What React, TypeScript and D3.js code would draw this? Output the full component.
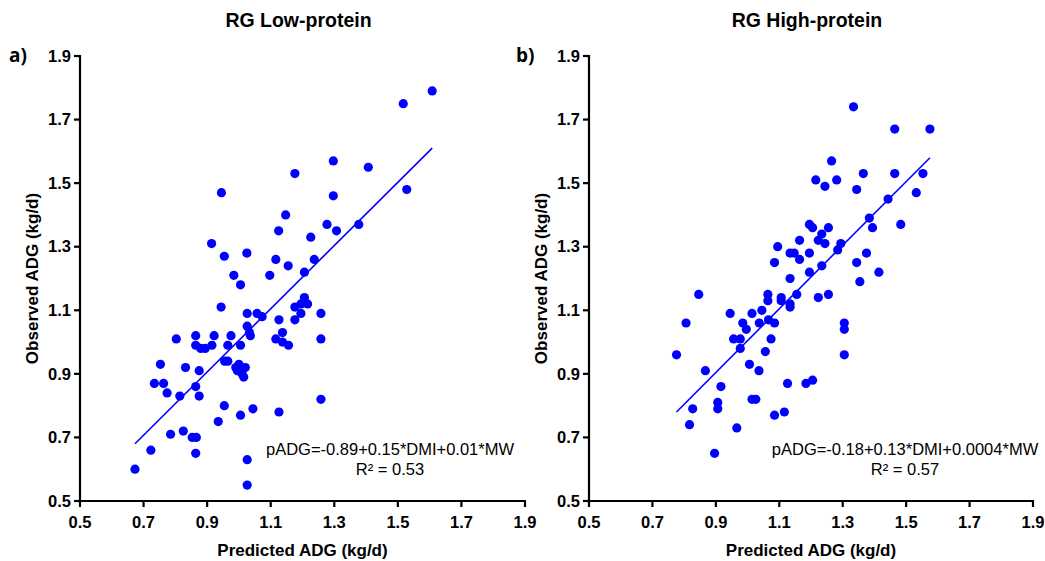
import React from "react";
import * as d3 from "d3";

// ---------- data ----------
const xTicks = [0.5, 0.7, 0.9, 1.1, 1.3, 1.5, 1.7, 1.9];
const yTicks = [0.5, 0.7, 0.9, 1.1, 1.3, 1.5, 1.7, 1.9];

const lowPredicted = [
  0.673, 0.723, 0.734, 0.753, 0.763, 0.774, 0.785, 0.803, 0.814, 0.825, 0.832, 0.853, 0.866, 0.864, 0.864,
  0.864, 0.864, 0.875, 0.875, 0.88, 0.894, 0.914, 0.915, 0.922, 0.935, 0.944, 0.945, 0.954, 0.954, 0.955,
  0.965, 0.965, 0.975, 0.984, 0.99, 0.995, 1.0, 1.005, 1.005, 1.005, 1.01, 1.015, 1.02, 1.025, 1.026,
  1.026, 1.026, 1.026, 1.033, 1.036, 1.044, 1.057, 1.073, 1.097, 1.116, 1.116, 1.125, 1.126, 1.126, 1.137,
  1.137, 1.147, 1.155, 1.156, 1.176, 1.176, 1.176, 1.195, 1.195, 1.206, 1.206, 1.216, 1.226, 1.237, 1.258,
  1.258, 1.258, 1.277, 1.297, 1.297, 1.307, 1.377, 1.407, 1.517, 1.528, 1.608,
];
const lowObserved = [
  0.6, 0.66, 0.87, 0.93, 0.87, 0.84, 0.71, 1.01, 0.83, 0.72, 0.92, 0.7, 0.7, 0.65, 0.86,
  1.02, 0.99, 0.83, 0.91, 0.98, 0.98, 1.31, 0.99, 1.02, 0.75, 1.11, 1.47, 1.27, 0.8, 0.94,
  0.94, 0.99, 1.02, 1.21, 0.92, 0.91, 0.93, 0.99, 1.18, 0.77, 0.9, 0.89, 0.92, 1.28, 1.09,
  1.05, 0.63, 0.55, 1.03, 1.02, 0.79, 1.09, 1.08, 1.21, 1.26, 1.01, 1.35, 0.78, 1.07, 1.03,
  1.0, 1.4, 1.24, 0.99, 1.53, 1.11, 1.07, 1.12, 1.09, 1.14, 1.22, 1.12, 1.33, 1.26, 1.09,
  1.01, 0.82, 1.37, 1.57, 1.46, 1.35, 1.37, 1.55, 1.75, 1.48, 1.79,
];
const lowFitX = [0.673, 1.608];
const lowFitY = [0.68, 1.61];

const highPredicted = [
  0.776, 0.806, 0.817, 0.827, 0.846, 0.867, 0.896, 0.906, 0.906, 0.916, 0.945, 0.956, 0.966, 0.977, 0.977,
  0.985, 0.996, 1.006, 1.014, 1.014, 1.026, 1.036, 1.037, 1.045, 1.056, 1.064, 1.064, 1.066, 1.074, 1.085,
  1.085, 1.085, 1.095, 1.106, 1.106, 1.116, 1.126, 1.134, 1.147, 1.134, 1.134, 1.134, 1.155, 1.164, 1.164,
  1.184, 1.195, 1.205, 1.195, 1.195, 1.205, 1.215, 1.223, 1.223, 1.234, 1.234, 1.244, 1.244, 1.255, 1.255,
  1.265, 1.281, 1.284, 1.294, 1.305, 1.305, 1.305, 1.334, 1.344, 1.344, 1.354, 1.365, 1.375, 1.384, 1.394,
  1.414, 1.443, 1.464, 1.464, 1.483, 1.532, 1.553, 1.575,
];
const highObserved = [
  0.96, 1.06, 0.74, 0.79, 1.15, 0.91, 0.65, 0.81, 0.79, 0.86, 1.09, 1.01, 0.73, 1.01, 0.98,
  1.06, 1.04, 0.93, 1.09, 0.82, 0.82, 0.91, 1.06, 1.1, 0.97, 1.15, 1.13, 1.07, 1.01, 1.06,
  1.25, 0.77, 1.3, 1.14, 1.13, 0.78, 0.87, 1.28, 1.28, 1.2, 1.12, 1.11, 1.15, 1.32, 1.26,
  0.87, 1.37, 1.36, 1.28, 1.22, 0.88, 1.51, 1.32, 1.14, 1.34, 1.24, 1.31, 1.49, 1.36, 1.15,
  1.57, 1.51, 1.29, 1.31, 1.06, 1.04, 0.96, 1.74, 1.48, 1.25, 1.19, 1.53, 1.28, 1.39, 1.36,
  1.22, 1.45, 1.67, 1.53, 1.37, 1.47, 1.53, 1.67,
];
const highFitX = [0.776, 1.575];
const highFitY = [0.78, 1.58];

const panels = [
  {
    label: "a)",
    title: "RG Low-protein",
    px: lowPredicted,
    py: lowObserved,
    fx: lowFitX,
    fy: lowFitY,
    eq: "pADG=-0.89+0.15*DMI+0.01*MW",
    r2: "R\u00b2 = 0.53",
  },
  {
    label: "b)",
    title: "RG High-protein",
    px: highPredicted,
    py: highObserved,
    fx: highFitX,
    fy: highFitY,
    eq: "pADG=-0.18+0.13*DMI+0.0004*MW",
    r2: "R\u00b2 = 0.57",
  },
];

const W = 1045;
const H = 561;
const FONT = "'Liberation Sans', Arial, Helvetica, sans-serif";
const BLUE = "#0000ff";

const layout = [
  { x0: 80, x1: 525, eqX: 390, labelX: 9 },
  { x0: 589, x1: 1033, eqX: 905, labelX: 516 },
];
const Y0 = 501;
const Y1 = 56;

function Panel({ p, l }: { p: (typeof panels)[0]; l: (typeof layout)[0] }) {
  const x = d3.scaleLinear().domain([0.5, 1.9]).range([l.x0, l.x1]);
  const y = d3.scaleLinear().domain([0.5, 1.9]).range([Y0, Y1]);
  const line = d3
    .line<number>()
    .x((_, i) => x(p.fx[i]))
    .y((d) => y(d));
  const cx = (l.x0 + l.x1) / 2;
  return (
    <g>
      <text x={cx - 4} y={27} textAnchor="middle" fontFamily={FONT} fontWeight="bold" fontSize={19.5}>
        {p.title}
      </text>
      <text x={l.labelX} y={62} fontFamily="'Open Sans', sans-serif" fontWeight="bold" fontSize={19}>
        {p.label}
      </text>
      {/* points */}
      {p.px.map((v, i) => (
        <circle key={i} cx={x(v)} cy={y(p.py[i])} r={4.6} fill={BLUE} />
      ))}
      <path d={line(p.fy) || ""} stroke={BLUE} strokeWidth={1.6} fill="none" />
      {/* axes */}
      <line x1={l.x0} x2={l.x0} y1={Y1 - 1} y2={Y0 + 1} stroke="#000" strokeWidth={2.2} />
      <line x1={l.x0 - 1} x2={l.x1 + 1} y1={Y0} y2={Y0} stroke="#000" strokeWidth={2.2} />
      {yTicks.map((t) => (
        <g key={"y" + t}>
          <line x1={l.x0 - 6} x2={l.x0} y1={y(t)} y2={y(t)} stroke="#000" strokeWidth={2.2} />
          <text
            x={l.x0 - 9}
            y={y(t)}
            dy="0.35em"
            textAnchor="end"
            fontFamily={FONT}
            fontWeight="bold"
            fontSize={16.5}
          >
            {t.toFixed(1)}
          </text>
        </g>
      ))}
      {xTicks.map((t) => (
        <g key={"x" + t}>
          <line x1={x(t)} x2={x(t)} y1={Y0} y2={Y0 + 6} stroke="#000" strokeWidth={2.2} />
          <text x={x(t)} y={528} textAnchor="middle" fontFamily={FONT} fontWeight="bold" fontSize={16.5}>
            {t.toFixed(1)}
          </text>
        </g>
      ))}
      <text x={cx} y={556} textAnchor="middle" fontFamily={FONT} fontWeight="bold" fontSize={17}>
        Predicted ADG (kg/d)
      </text>
      <text
        transform={`translate(${l.x0 - 42},${(Y0 + Y1) / 2}) rotate(-90)`}
        textAnchor="middle"
        fontFamily={FONT}
        fontWeight="bold"
        fontSize={17}
      >
        Observed ADG (kg/d)
      </text>
      <text x={l.eqX} y={455} textAnchor="middle" fontFamily={FONT} fontSize={16.5}>
        {p.eq}
      </text>
      <text x={l.eqX} y={475} textAnchor="middle" fontFamily={FONT} fontSize={16.5}>
        {p.r2}
      </text>
    </g>
  );
}

export default function App() {
  return (
    <svg width={W} height={H} style={{ display: "block", position: "absolute", left: 0, top: 0 }}>
      <rect width={W} height={H} fill="#fff" />
      {panels.map((p, i) => (
        <Panel key={i} p={p} l={layout[i]} />
      ))}
    </svg>
  );
}
